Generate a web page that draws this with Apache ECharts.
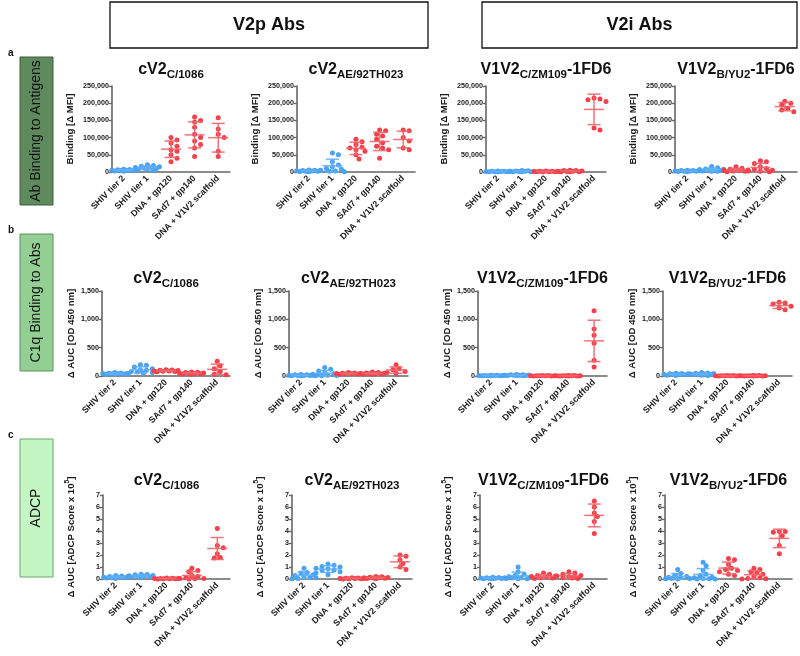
<!DOCTYPE html>
<html><head><meta charset="utf-8">
<script src="https://cdn.jsdelivr.net/npm/echarts@6/dist/echarts.min.js"></script>
<style>html,body{margin:0;padding:0;background:#fff}#c{width:800px;height:656px}</style>
</head><body><div id="c"></div>
<script>
const categories = ['SHIV tier 2','SHIV tier 1','DNA + gp120','SAd7 + gp140','DNA + V1V2 scaffold'];

// Row a: Ab binding to antigens (Δ MFI)
const bindC1086 = [
  [8000,7000,6500,6000,5000,4500,4000,3500,3000,2500],
  [21000,19000,17000,15000,13000,12000,11000,10000,8000,7000,5000],
  [100000,93000,84000,75000,65000,60000,50000,40000,30000],
  [160000,150000,145000,130000,110000,100000,90000,80000,70000,45000],
  [158000,125000,110000,100000,60000,45000]
];
const bindAE = [
  [6000,5000,4500,4000,3500,3000,2500,2000,1500,1000],
  [55000,50000,30000,20000,15000,10000,8000,5000,3000,2000,1000],
  [95000,88000,80000,72000,70000,65000,60000,50000,38000],
  [122000,120000,110000,105000,95000,85000,75000,70000,65000,40000],
  [122000,120000,100000,90000,70000,65000]
];
const bindZM109 = [
  [3000,2500,2000,2000,1500,1500,1000,1000,800,500],
  [4000,3500,3000,2500,2000,2000,1500,1000,1000,500],
  [3000,2500,2000,1500,1500,1000,1000,800,500],
  [5000,4500,4000,3000,2500,2000,1500,1000,1000,500],
  [215000,212000,210000,205000,128000,122000]
];
const bindYU2 = [
  [5000,4500,4000,3500,3000,3000,2500,2000,1500,1000],
  [16000,12000,9000,8000,7000,6000,5000,4000,3000,2500,2000],
  [15000,11000,8000,6000,5000,4000,3000,2000,1000],
  [33000,30000,25000,15000,10000,8000,5000,3000,2000,1000],
  [206000,200000,195000,185000,180000,175000]
];
// Row b: C1q binding (Δ AUC OD 450 nm)
const c1qC1086 = [
  [60,55,50,45,45,40,40,35,30,30],
  [200,190,160,130,110,100,80,70,60,50,40],
  [110,105,100,95,90,90,85,80,75],
  [70,65,60,55,50,45,45,40,35,30],
  [260,180,130,80,30,20]
];
const c1qAE = [
  [25,20,20,15,15,10,10,8,5,5],
  [150,120,90,60,40,30,20,15,10,5,5],
  [60,55,50,45,45,40,40,35,30],
  [70,60,55,50,45,45,40,35,35,30],
  [200,130,110,80,60,50]
];
const c1qZM109 = [
  [15,12,10,10,8,8,6,5,5,4],
  [25,22,20,18,15,15,12,10,10,8,6],
  [10,8,6,5,5,4,3,2,2],
  [10,8,6,5,5,4,3,2,2,1],
  [1150,830,720,580,280,160]
];
const c1qYU2 = [
  [50,45,40,35,30,30,25,20,15,10],
  [60,55,50,45,40,35,30,25,20,15,10],
  [10,8,6,5,5,4,3,2,2],
  [10,8,6,5,5,4,3,2,2,1],
  [1300,1290,1270,1230,1200,1170]
];
// Row c: ADCP (Δ AUC, score x 10^5)
const adcpC1086 = [
  [0.3,0.25,0.2,0.2,0.15,0.15,0.1,0.1,0.08,0.05],
  [0.4,0.38,0.35,0.3,0.28,0.25,0.2,0.18,0.15,0.1],
  [0.08,0.06,0.05,0.05,0.04,0.03,0.03,0.02,0.01],
  [0.9,0.7,0.6,0.3,0.2,0.1,0.05,0.05,0.02,0.01],
  [4.2,2.8,2.6,2.1,1.8,1.75]
];
const adcpAE = [
  [0.9,0.55,0.5,0.35,0.3,0.2,0.15,0.1,0.05,0.02],
  [1.25,1.15,1.05,1.0,0.9,0.85,0.75,0.7,0.6,0.5,0.35],
  [0.1,0.08,0.06,0.05,0.05,0.04,0.03,0.02,0.01],
  [0.2,0.18,0.15,0.12,0.1,0.1,0.08,0.06,0.05,0.03],
  [2.0,1.9,1.6,1.3,1.0,0.8]
];
const adcpZM109 = [
  [0.15,0.12,0.1,0.1,0.08,0.06,0.05,0.04,0.03,0.02],
  [1.0,0.6,0.4,0.3,0.2,0.15,0.1,0.08,0.05,0.03,0.02],
  [0.5,0.4,0.3,0.25,0.2,0.15,0.1,0.08,0.05],
  [0.6,0.5,0.4,0.3,0.25,0.2,0.15,0.1,0.08,0.05],
  [6.5,6.0,5.5,5.2,4.8,3.8]
];
const adcpYU2 = [
  [0.8,0.45,0.3,0.2,0.15,0.1,0.05,0.05,0.02,0.01],
  [1.4,1.1,0.7,0.4,0.3,0.15,0.1,0.05,0.02,0.01,0.01],
  [1.7,1.6,1.2,0.9,0.8,0.7,0.6,0.4,0.3],
  [0.9,0.8,0.6,0.5,0.4,0.2,0.1,0.05,0.02,0.01],
  [3.95,3.95,3.9,3.6,2.8,2.1]
];

const panelTitles = [
  ['cV2','C/1086',''],
  ['cV2','AE/92TH023',''],
  ['V1V2','C/ZM109','-1FD6'],
  ['V1V2','B/YU2','-1FD6']
];
const rowData = [
  [bindC1086, bindAE, bindZM109, bindYU2],
  [c1qC1086, c1qAE, c1qZM109, c1qYU2],
  [adcpC1086, adcpAE, adcpZM109, adcpYU2]
];
const rowAxes = [
  {min:0, max:250000, interval:50000},
  {min:0, max:1500, interval:500},
  {min:0, max:7, interval:1}
];
const rowAxisNames = [
  'Binding [Δ MFI]',
  'Δ AUC [OD 450 nm]',
  '{n|Δ AUC [ADCP Score x 10}{sup|5}{n|]}'
];
const sideLabels = ['Ab Binding to Antigens','C1q Binding to Abs','ADCP'];
const headerLabels = ['V2p Abs','V2i Abs'];

// ---- layout / style ----
const FONT = 'Liberation Sans, Arial, sans-serif';
const BLUE = '#4aa2f3', RED = '#f2414b';
const BLUE_BAR = '#62b0f6', RED_BAR = '#f2646b';
const AXIS_COL = '#666';
const layout = [
  {top:86, h:86, lefts:[112,297,486,675], widths:[118,118,120,122], titleY:71, nameGap:37},
  {top:291, h:85, lefts:[102,289,478,663], widths:[128,119,129,129], titleY:280, nameGap:26},
  {top:495, h:84, lefts:[103,292,480,665], widths:[127,120,127,127], titleY:482, nameGap:27}
];

const grids = [], xAxes = [], yAxes = [], series = [], graphics = [];

function makeRender(groups){
  return function(params, api){
    const gi = api.value(0);
    const vals = groups[gi];
    const col = gi < 2 ? BLUE : RED;
    const barCol = gi < 2 ? BLUE_BAR : RED_BAR;
    const cx = api.coord([gi, 0])[0];
    const n = vals.length;
    const mean = vals.reduce((a,b)=>a+b,0)/n;
    const sd = Math.sqrt(vals.reduce((a,b)=>a+(b-mean)*(b-mean),0)/(n-1));
    const placed = [];
    const step = 3, maxK = 4, minD = 4.6;
    vals.forEach(v => {
      const py = api.coord([gi, v])[1];
      let best = 0, bestScore = -1;
      for (let k = 0; k <= 2*maxK; k++){
        const off = (k % 2 ? 1 : -1) * Math.ceil(k/2) * step;
        let d = Infinity;
        placed.forEach(p => { const dd = Math.hypot(p[0]-off, p[1]-py); if (dd < d) d = dd; });
        if (d >= minD){ best = off; bestScore = Infinity; break; }
        if (d > bestScore){ bestScore = d; best = off; }
      }
      placed.push([best, py]);
    });
    const children = placed.map(p => ({
      type:'circle', shape:{cx: cx + p[0], cy: p[1], r: 2.5},
      style:{fill: col}
    }));
    const yM = api.coord([gi, mean])[1];
    const yHi = api.coord([gi, mean + sd])[1];
    const yLo = api.coord([gi, Math.max(0, mean - sd)])[1];
    const ls = {stroke: barCol, lineWidth: 1.5, opacity: 0.9};
    children.push(
      {type:'line', shape:{x1:cx-10, y1:yM, x2:cx+10, y2:yM}, style:ls},
      {type:'line', shape:{x1:cx, y1:yHi, x2:cx, y2:yLo}, style:ls},
      {type:'line', shape:{x1:cx-6.5, y1:yHi, x2:cx+6.5, y2:yHi}, style:ls},
      {type:'line', shape:{x1:cx-6.5, y1:yLo, x2:cx+6.5, y2:yLo}, style:ls}
    );
    return {type:'group', children};
  };
}

rowData.forEach((row, r) => {
  const L = layout[r];
  row.forEach((groups, c) => {
    const idx = grids.length;
    grids.push({left: L.lefts[c], top: L.top, width: L.widths[c], height: L.h});
    xAxes.push({
      gridIndex: idx, type:'category', data: categories,
      axisLine:{lineStyle:{color: AXIS_COL, width: 1.6}},
      axisTick:{show:false},
      axisLabel:{rotate:45, interval:0, fontSize:8.8, fontWeight:'bold', color:'#1a1a1a', margin:5, fontFamily: FONT}
    });
    yAxes.push({
      gridIndex: idx, type:'value', min: rowAxes[r].min, max: rowAxes[r].max, interval: rowAxes[r].interval,
      splitLine:{show:false},
      axisLine:{show:true, lineStyle:{color: AXIS_COL, width: 1.6}},
      axisTick:{show:true, length:3, lineStyle:{color: AXIS_COL, width: 1.4}},
      axisLabel:{fontSize:7.2, fontWeight:'bold', color:'#1a1a1a', margin:3, fontFamily: FONT,
        formatter: v => v.toLocaleString('en-US')},
      name: rowAxisNames[r], nameLocation:'middle', nameGap: L.nameGap,
      nameTextStyle:{fontSize:9.6, fontWeight:'bold', color:'#1a1a1a', fontFamily: FONT,
        rich:{
          n:{fontSize:9.6, fontWeight:'bold', color:'#1a1a1a', fontFamily: FONT, lineHeight:12.5, verticalAlign:'bottom'},
          sup:{fontSize:6.8, fontWeight:'bold', color:'#1a1a1a', fontFamily: FONT, lineHeight:7, verticalAlign:'top'}
        }}
    });
    series.push({
      type:'custom', xAxisIndex: idx, yAxisIndex: idx, clip:false,
      data: groups.map((g, i) => [i]),
      renderItem: makeRender(groups)
    });
    const t = panelTitles[c];
    graphics.push({
      type:'text', x: L.lefts[c] + L.widths[c]/2, y: L.titleY,
      style:{
        text: '{m|' + t[0] + '}{s|' + t[1] + '}' + (t[2] ? '{m|' + t[2] + '}' : ''),
        align:'center', verticalAlign:'middle',
        rich:{
          m:{fontSize:16, fontWeight:'bold', fontFamily: FONT, fill:'#111', lineHeight:16, verticalAlign:'top'},
          s:{fontSize:11.5, fontWeight:'bold', fontFamily: FONT, fill:'#111', lineHeight:19, verticalAlign:'bottom'}
        }
      }
    });
  });
});

// header boxes
const headerBoxes = [{x:110, w:318}, {x:482, w:315}];
headerBoxes.forEach((b, i) => {
  graphics.push({type:'rect', shape:{x:b.x, y:2, width:b.w, height:46},
    style:{fill:'#fff', stroke:'#111', lineWidth:1.3}});
  graphics.push({type:'text', x: b.x + b.w/2, y: 25,
    style:{text: headerLabels[i], font:'bold 18px ' + FONT, fill:'#111', align:'center', verticalAlign:'middle'}});
});

// side boxes
const sideBoxes = [
  {y:57, h:148, fill:'#5e8a5e', stroke:'#3c5e3c', letter:'a'},
  {y:234, h:137, fill:'#93cf93', stroke:'#5f8f5f', letter:'b'},
  {y:439, h:138, fill:'#c4f6c4', stroke:'#6aa56a', letter:'c'}
];
sideBoxes.forEach((b, i) => {
  graphics.push({type:'text', x: 8, y: b.y - 4,
    style:{text: b.letter, font:'bold 10px ' + FONT, fill:'#111', align:'left', verticalAlign:'middle'}});
  graphics.push({type:'rect', shape:{x:20, y:b.y, width:33, height:b.h},
    style:{fill:b.fill, stroke:b.stroke, lineWidth:1}});
  graphics.push({type:'text', x: 36.5, y: b.y + b.h/2, rotation: Math.PI/2,
    style:{text: sideLabels[i], font:'14px ' + FONT, fill:'#111', align:'center', verticalAlign:'middle'}});
});

const chart = echarts.init(document.getElementById('c'), null, {renderer:'canvas'});
chart.setOption({
  animation:false,
  backgroundColor:'#fff',
  textStyle:{fontFamily: FONT},
  grid: grids, xAxis: xAxes, yAxis: yAxes, series,
  graphic: graphics
});
</script></body></html>
